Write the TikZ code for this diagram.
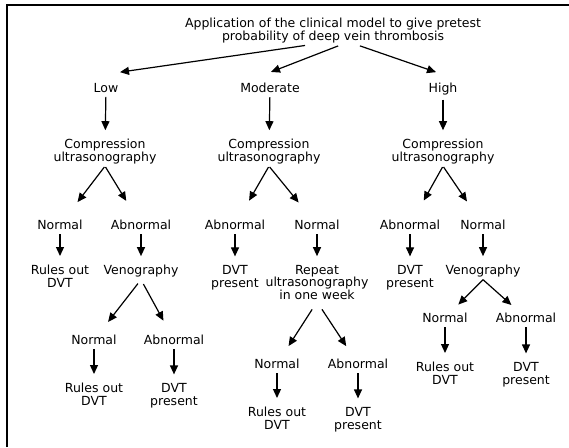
\documentclass[tikz,border=0pt]{standalone}
\usepackage{fontspec}
\setmainfont{DejaVu Sans}
\usetikzlibrary{arrows.meta}

\begin{document}
\begin{tikzpicture}[
    x=1pt, y=-1pt, % work in pixel units, y pointing down
    every node/.style={font=\fontsize{12.5}{12.5}\selectfont, align=center, inner sep=2pt},
    arr/.style={-{Triangle[length=9pt,width=8pt]}, line width=1.2pt},
    down/.style={arr, shorten <=2pt, shorten >=7pt}
  ]
  \useasboundingbox (0,0) rectangle (569,447);

  % 1. Frame (only the top and left edges show)
  \draw[line width=2pt] (7,447) -- (7,5) -- (569,5);

  % 2. Clinical model and the three pretest probabilities
  \node (title) at (333,30.7) {Application of the clinical model to give pretest\\probability of deep vein thrombosis};
  \node (low)  at (106,88)   {Low};
  \node (mod)  at (270,88)   {Moderate};
  \node (high) at (443,89.4) {High};

  \draw[arr, shorten <=2pt] ([xshift=-26pt]title.south) -- ([xshift=14pt,yshift=9pt]low.north);
  \draw[arr, shorten <=2pt] ([xshift=7pt]title.south)   -- ([xshift=1pt,yshift=9pt]mod.north);
  \draw[arr, shorten <=2pt] ([xshift=25pt]title.south)  -- ([xshift=-7pt,yshift=9pt]high.north);

  % 3. Compression ultrasonography
  \node (cuLow)  at (105,151.7) {Compression\\ultrasonography};
  \node (cuMod)  at (269,151.7) {Compression\\ultrasonography};
  \node (cuHigh) at (443,151.7) {Compression\\ultrasonography};

  \draw[down] (low) -- (cuLow);
  \draw[down] (mod) -- (cuMod);
  \draw[down] (high) -- (cuHigh);

  % 4. First results
  \node (nLow)  at (60,225)  {Normal};
  \node (aLow)  at (141,225) {Abnormal};
  \node (aMod)  at (235,225) {Abnormal};
  \node (nMod)  at (317,225) {Normal};
  \node (aHigh) at (410,225) {Abnormal};
  \node (nHigh) at (483,225) {Normal};

  \draw[arr, shorten <=1pt, shorten >=20pt] (cuLow.south) -- (nLow);
  \draw[arr, shorten <=1pt, shorten >=20pt] (cuLow.south) -- (aLow);
  \draw[arr, shorten <=1pt, shorten >=20pt] (cuMod.south) -- (aMod);
  \draw[arr, shorten <=1pt, shorten >=20pt] (cuMod.south) -- (nMod);
  \draw[arr, shorten <=1pt, shorten >=20pt] (cuHigh.south) -- (aHigh);
  \draw[arr, shorten <=1pt, shorten >=20pt] (cuHigh.south) -- (nHigh);

  % 5. Next step
  \node (rLow)  at (60,276.2)  {Rules out\\DVT};
  \node (vLow)  at (141,271.4) {Venography};
  \node (dMod)  at (235,277.7) {DVT\\present};
  \node (rpMod) at (317,282.5) {Repeat\\ultrasonography\\in one week};
  \node (dHigh) at (410,277.7) {DVT\\present};
  \node (vHigh) at (483,271.4) {Venography};

  \draw[down] (nLow) -- (rLow);
  \draw[down] (aLow) -- (vLow);
  \draw[down] (aMod) -- (dMod);
  \draw[down] (nMod) -- (rpMod);
  \draw[down] (aHigh) -- (dHigh);
  \draw[down] (nHigh) -- (vHigh);

  % 6. Second results
  \node (nLow2)  at (94,340)  {Normal};
  \node (aLow2)  at (174,340) {Abnormal};
  \node (nMod2)  at (277,364) {Normal};
  \node (aMod2)  at (358,364) {Abnormal};
  \node (nHigh2) at (445,318) {Normal};
  \node (aHigh2) at (526,318) {Abnormal};

  \draw[arr, shorten <=5pt, shorten >=14pt] (vLow.south) -- (nLow2);
  \draw[arr, shorten <=5pt, shorten >=14pt] (vLow.south) -- (aLow2);
  \draw[arr, shorten <=9pt, shorten >=13pt] (rpMod.south) -- (nMod2);
  \draw[arr, shorten <=9pt, shorten >=13pt] (rpMod.south) -- (aMod2);
  \draw[arr, shorten >=9pt] (vHigh.south) -- (nHigh2);
  \draw[arr, shorten >=9pt] (vHigh.south) -- (aHigh2);

  % 7. Outcome
  \node (rLow2)  at (94,394.2)  {Rules out\\DVT};
  \node (dLow2)  at (174,395.7) {DVT\\present};
  \node (rMod2)  at (277,418.2) {Rules out\\DVT};
  \node (dMod2)  at (358,419.7) {DVT\\present};
  \node (rHigh2) at (445,373.2) {Rules out\\DVT};
  \node (dHigh2) at (526,374.7) {DVT\\present};

  \draw[down] (nLow2) -- (rLow2);
  \draw[down] (aLow2) -- (dLow2);
  \draw[down] (nMod2) -- (rMod2);
  \draw[down] (aMod2) -- (dMod2);
  \draw[down] (nHigh2) -- (rHigh2);
  \draw[down] (aHigh2) -- (dHigh2);
\end{tikzpicture}
\end{document}
